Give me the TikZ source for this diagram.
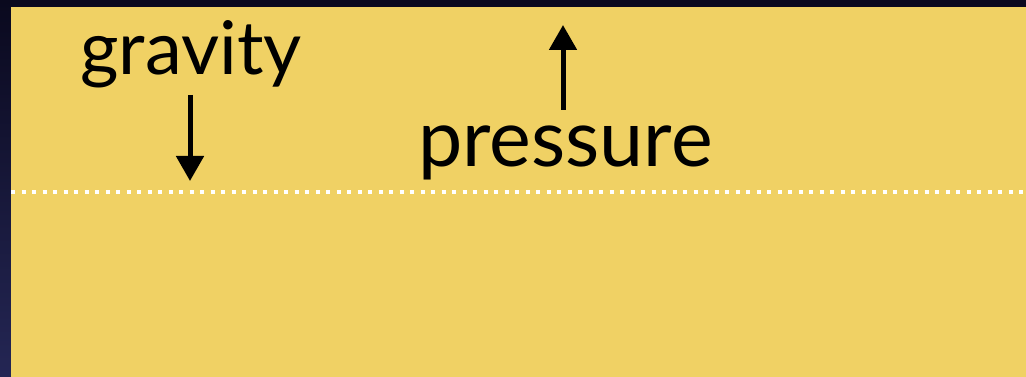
\documentclass[tikz,border=0pt]{standalone}
\usepackage{fontspec}
\setmainfont{Lato}
\usetikzlibrary{arrows.meta}
\definecolor{paper}{RGB}{240,209,100}
\definecolor{navytop}{RGB}{10,9,30}
\definecolor{navybot}{RGB}{36,38,84}
\tikzset{
  label text/.style={inner sep=0pt, anchor=base west, text=black},
  force arrow/.style={line width=5pt, -{Triangle[width=27pt,length=25pt]}},
  surface line/.style={white, line width=4pt, dash pattern=on 4pt off 6.5pt}
}
\begin{document}
\begin{tikzpicture}[x=1pt,y=1pt]
\useasboundingbox (0,0) rectangle (1026,377);
\shade[top color=navytop, bottom color=navybot] (0,0) rectangle (1026,377);
\fill[paper] (11,0) rectangle (1026,370);
\draw[surface line] (11,185) -- (1026,185);
\node[label text, font=\fontsize{74}{78}\selectfont] (gravity) at (80,302) {gravity};
\node[label text, font=\fontsize{79}{83}\selectfont] (pressure) at (418,210) {pressure};
\coordinate (gstart) at (190,282);
\coordinate (gend) at (190,196);
\coordinate (pstart) at (563,267);
\coordinate (pend) at (563,352);
\draw[force arrow] (gstart) -- (gend);
\draw[force arrow] (pstart) -- (pend);
\end{tikzpicture}
\end{document}
